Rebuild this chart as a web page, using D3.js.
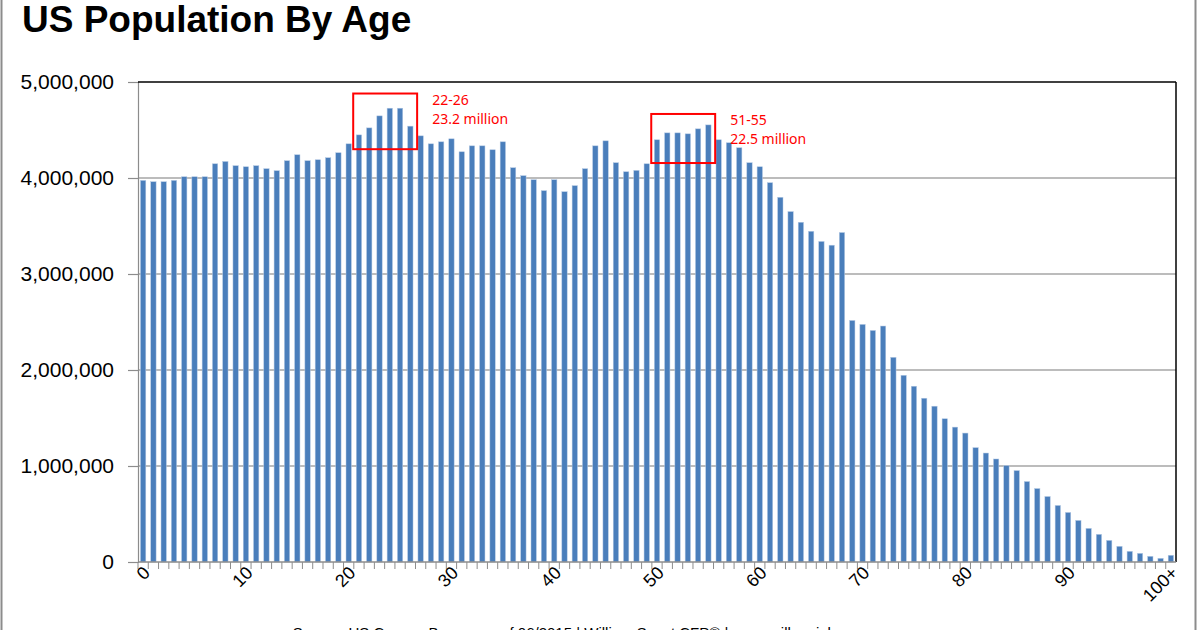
<!DOCTYPE html>
<html lang="en">
<head>
  <meta charset="utf-8">
  <title>US Population By Age</title>
  <script src="https://cdn.jsdelivr.net/npm/d3@7/dist/d3.min.js"></script>
  <style>
    html, body { margin: 0; padding: 0; background: #fff; }
    svg { display: block; font-family: "Liberation Sans", Arial, sans-serif; }
  </style>
</head>
<body>
<div id="ChartArea"></div>
<script>
// population by single year of age (0 .. 100+)
const ages = d3.range(0, 100).map(String).concat(["100+"]);
const population = [
  3975000, 3961000, 3961000, 3975000, 4013000, 4013000, 4013000, 4148000, 4172000, 4128000,
  4117000, 4128000, 4097000, 4076000, 4180000, 4242000, 4180000, 4190000, 4211000, 4263000,
  4356000, 4449000, 4522000, 4647000, 4727000, 4727000, 4540000, 4439000, 4356000, 4377000,
  4408000, 4273000, 4335000, 4335000, 4294000, 4377000, 4107000, 4024000, 3982000, 3868000,
  3982000, 3857000, 3920000, 4097000, 4335000, 4387000, 4159000, 4065000, 4079000, 4148000,
  4398000, 4470000, 4470000, 4460000, 4512000, 4553000, 4398000, 4367000, 4315000, 4159000,
  4117000, 3951000, 3799000, 3650000, 3539000, 3445000, 3339000, 3300000, 3432000, 2516000,
  2475000, 2412000, 2458000, 2132000, 1945000, 1831000, 1706000, 1623000, 1492000, 1405000,
  1343000, 1191000, 1135000, 1073000, 1004000, 952000, 838000, 765000, 682000, 589000,
  516000, 433000, 350000, 288000, 225000, 163000, 111000, 90000, 59000, 38000,
  70000
];
const yTicks = [0, 1000000, 2000000, 3000000, 4000000, 5000000];
const xLabels = ["0", "10", "20", "30", "40", "50", "60", "70", "80", "90", "100+"];

// highlighted age ranges: first/last bar inside the box, box top/bottom values
const boxes = [
  { from: "21", to: "26", top: 4880000, bottom: 4300000, range: "22-26", total: "23.2 million" },
  { from: "50", to: "55", top: 4667000, bottom: 4156000, range: "51-55", total: "22.5 million" }
];

const W = 1200, H = 630;
const margin = { top: 82, right: 24, bottom: 68, left: 138 };

const svg = d3.select("#ChartArea").append("svg")
  .attr("width", W)
  .attr("height", H);

// outer frame lines of the picture
svg.append("line").attr("x1", 1.5).attr("x2", 1.5).attr("y1", 0).attr("y2", H)
  .attr("stroke", "#8c8c8c").attr("stroke-width", 2);
svg.append("line").attr("x1", 1195.5).attr("x2", 1195.5).attr("y1", 0).attr("y2", H)
  .attr("stroke", "#8c8c8c").attr("stroke-width", 2);

// title
svg.append("text")
  .attr("x", 22).attr("y", 32)
  .attr("font-size", 37).attr("font-weight", "bold")
  .attr("fill", "#000")
  .text("US Population By Age");

const x = d3.scaleBand()
  .domain(ages)
  .range([margin.left, W - margin.right])
  .paddingInner(0.48)
  .paddingOuter(0.24);

const y = d3.scaleLinear()
  .domain([0, 5000000])
  .range([H - margin.bottom, margin.top]);

const step = x.step();
const x0 = margin.left, x1 = W - margin.right;

// gridlines
svg.append("g")
  .selectAll("line")
  .data(yTicks.filter(d => d > 0 && d < 5000000))
  .enter().append("line")
  .attr("x1", x0).attr("x2", x1)
  .attr("y1", d => y(d)).attr("y2", d => y(d))
  .attr("stroke", "#a6a6a6").attr("stroke-width", 1.5);

// bars
svg.append("g")
  .selectAll("rect")
  .data(ages)
  .enter().append("rect")
  .attr("x", (d) => x(d))
  .attr("y", (d, i) => y(population[i]))
  .attr("width", x.bandwidth())
  .attr("height", (d, i) => y(0) - y(population[i]))
  .attr("fill", "#4a7ebb")
  .attr("stroke", "#b4c9e4")
  .attr("stroke-width", 0.5);

// y axis
const yAxis = svg.append("g")
  .attr("transform", "translate(" + x0 + ",0)")
  .call(d3.axisLeft(y)
    .tickValues(yTicks)
    .tickSize(10)
    .tickPadding(14)
    .tickFormat(d3.format(",")));
yAxis.select(".domain").attr("stroke", "#8c8c8c").attr("stroke-width", 1.2);
yAxis.selectAll(".tick line").attr("stroke", "#8c8c8c").attr("stroke-width", 1.2);
yAxis.selectAll(".tick text")
  .attr("font-size", 21)
  .attr("font-family", "Liberation Sans, Arial, sans-serif")
  .attr("fill", "#000");

// plot frame: top and right in black
svg.append("line").attr("x1", x0).attr("x2", x1).attr("y1", y(5000000)).attr("y2", y(5000000))
  .attr("stroke", "#000").attr("stroke-width", 1.5);
svg.append("line").attr("x1", x1).attr("x2", x1).attr("y1", y(5000000)).attr("y2", y(0))
  .attr("stroke", "#000").attr("stroke-width", 1.5);

// x axis: baseline + tick marks at every category boundary
const xAxis = svg.append("g");
xAxis.append("line")
  .attr("x1", x0).attr("x2", x1)
  .attr("y1", y(0)).attr("y2", y(0))
  .attr("stroke", "#8c8c8c").attr("stroke-width", 1.5);
xAxis.selectAll(".xt")
  .data(ages)
  .enter().append("line")
  .attr("class", "xt")
  .attr("x1", d => x(d) - step * 0.24).attr("x2", d => x(d) - step * 0.24)
  .attr("y1", y(0)).attr("y2", y(0) + 7)
  .attr("stroke", "#8c8c8c").attr("stroke-width", 1);

xAxis.selectAll(".xl")
  .data(xLabels)
  .enter().append("text")
  .attr("class", "xl")
  .attr("text-anchor", "end")
  .attr("font-size", 18)
  .attr("fill", "#000")
  .attr("transform", d => "translate(" + (x(d) + x.bandwidth() / 2 + 8) + "," + (y(0) + 12) + ") rotate(-45)")
  .text(d => d);

// highlight boxes and notes
boxes.forEach(b => {
  const left = x(b.from) - step * 0.3;
  const right = x(b.to) + x.bandwidth() + step * 0.4;
  svg.append("rect")
    .attr("x", left).attr("y", y(b.top))
    .attr("width", right - left)
    .attr("height", y(b.bottom) - y(b.top))
    .attr("fill", "none")
    .attr("stroke", "#ff0000")
    .attr("stroke-width", 2);
  const note = svg.append("text")
    .attr("font-family", "Noto Sans, Open Sans, sans-serif")
    .attr("font-size", 14)
    .attr("fill", "#ff0000");
  note.append("tspan").attr("x", right + 15).attr("y", y(b.top) + 11).text(b.range);
  note.append("tspan").attr("x", right + 15).attr("y", y(b.top) + 30).text(b.total);
});

// source line (cut off at the bottom of the picture, as in the original)
svg.append("text")
  .attr("x", 600).attr("y", 638)
  .attr("text-anchor", "middle")
  .attr("font-size", 15)
  .attr("fill", "#000")
  .text("Source: US Census Bureau as of 06/2015 | William Swart CFP® | www.millennialmoney.com");
</script>
</body>
</html>
